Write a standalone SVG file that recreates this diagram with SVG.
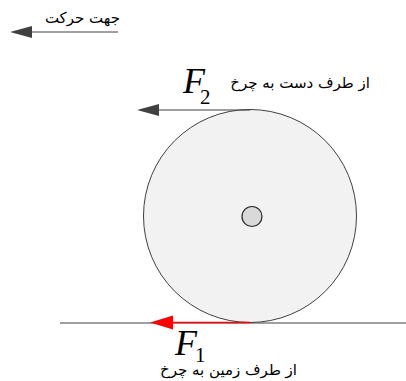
<svg xmlns="http://www.w3.org/2000/svg" width="406" height="381" viewBox="0 0 406 381">
<style>
.fa{font-family:"DejaVu Sans","Noto Sans",sans-serif;font-size:15px;fill:#000}
.fv{font-family:"Liberation Serif",serif;font-style:italic;font-size:36px;fill:#000}
.sub{font-family:"Liberation Serif",serif;font-size:21px;fill:#000}
</style>
<rect width="406" height="381" fill="#fff"/>
<g id="ground"><line x1="60" y1="323" x2="406" y2="323" stroke="#404040" stroke-width="1"/></g>
<g id="wheel">
<circle cx="250" cy="216" r="106.5" fill="#f2f2f2" stroke="#404040" stroke-width="1"/>
<circle cx="252" cy="216.5" r="10" fill="#d9d9d9" stroke="#262626" stroke-width="1.2"/>
</g>
<g id="connectors">
<line x1="118" y1="32" x2="32" y2="32" stroke="#404040" stroke-width="1"/>
<path d="M32,26 L10,32 L32,38 Z" fill="#404040"/>
<line x1="250" y1="110" x2="158" y2="110" stroke="#404040" stroke-width="1"/>
<path d="M159,104 L137,110 L159,116 Z" fill="#404040"/>
<line x1="250" y1="322.5" x2="172" y2="322.5" stroke="#ff0000" stroke-width="1.5"/>
<path d="M173,315.5 L150,322.5 L173,329.5 Z" fill="#ff0000"/>
</g>
<g id="labels">
<text class="fa" x="120" y="23" text-anchor="start" direction="rtl">جهت حرکت</text>
<text class="fv" x="183" y="93">F</text>
<text class="sub" x="200" y="104">2</text>
<text class="fa" x="370" y="88" text-anchor="start" direction="rtl">از طرف دست به چرخ</text>
<text class="fv" x="175" y="355">F</text>
<text class="sub" x="195" y="362">1</text>
<text class="fa" x="297" y="375" text-anchor="start" direction="rtl">از طرف زمین به چرخ</text>
</g>
</svg>
